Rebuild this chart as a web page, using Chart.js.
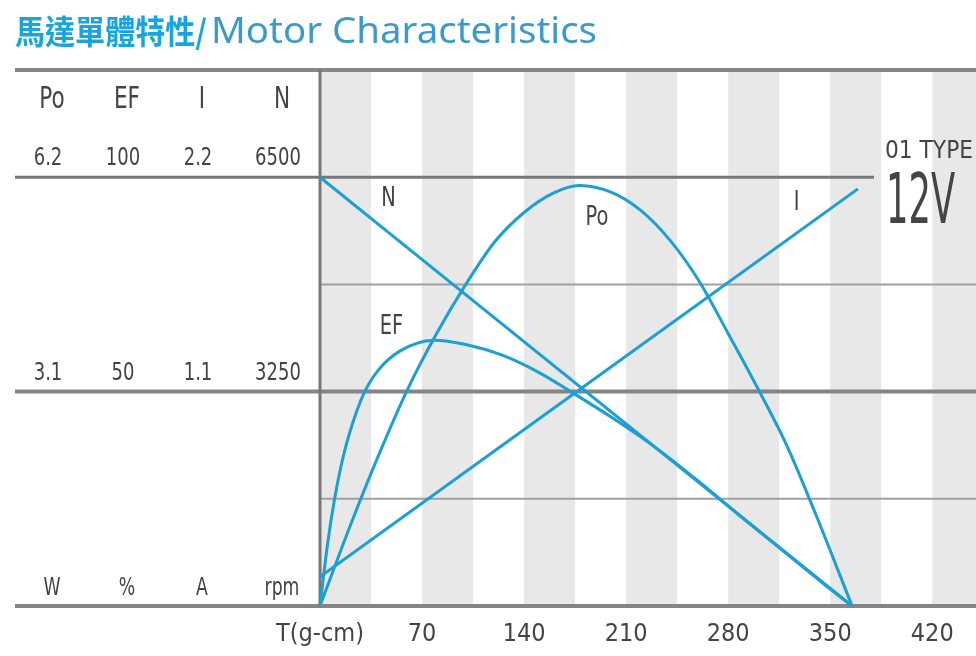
<!DOCTYPE html>
<html>
<head>
<meta charset="utf-8">
<script src="https://cdn.jsdelivr.net/npm/chart.js@4.4.0/dist/chart.umd.min.js"></script>
<style>
html, body { margin: 0; padding: 0; background: #fff; }
#wrap { width: 976px; height: 656px; }
</style>
</head>
<body>
<div id="wrap"><canvas id="myChart" width="976" height="656"></canvas></div>
<script>
// torque axis (g-cm)
const TORQUE_TICKS = [0, 70, 140, 210, 280, 350, 420];
const TICK_LABELS = ["T(g-cm)", "70", "140", "210", "280", "350", "420"];

// curves, in their own units
const PO_T = [0, 20, 40, 60, 80, 100, 120, 140, 160, 178, 200, 220, 240, 260, 280, 300, 320, 340, 365];
const PO_W = [0, 1.12, 2.17, 3.13, 3.94, 4.65, 5.27, 5.69, 5.97, 6.08, 5.98, 5.72, 5.29, 4.70, 3.94, 3.16, 2.33, 1.33, 0];

const EF_T = [0, 5, 10, 15, 20, 30, 40, 55, 78, 100, 125, 150, 172, 200, 230, 260, 290, 320, 345, 365];
const EF_PCT = [0, 14, 25, 33.5, 40, 49.5, 55, 59.5, 62, 61, 58.5, 54.5, 50, 44, 37, 29, 20.5, 12.2, 5.3, 0];

const I_T = [0, 369];
const I_A = [0.15, 2.14];

const N_T = [0, 365];
const N_RPM = [6500, 0];

// left-hand scale table
const COLS = ["Po", "EF", "I", "N"];
const FULL = [6.2, 100, 2.2, 6500];
const TOP_ROW = ["6.2", "100", "2.2", "6500"];
const MID_ROW = ["3.1", "50", "1.1", "3250"];
const UNITS = ["W", "%", "A", "rpm"];

const BLUE = '#1c9fd2';
const TXT = '#444';
const NARROW = '"DejaVu Sans Condensed", "DejaVu Sans", sans-serif';

function toPct(ts, vals, full) {
  return ts.map((t, i) => ({ x: t, y: vals[i] / full * 100 }));
}

function line(label, data) {
  return {
    label: label,
    data: data,
    borderColor: BLUE,
    borderWidth: 3,
    pointRadius: 0,
    fill: false,
    cubicInterpolationMode: 'monotone'
  };
}

// draw text squeezed horizontally
function drawText(ctx, str, cx, cy, font, sx, color, align) {
  ctx.save();
  ctx.font = font;
  ctx.fillStyle = color || TXT;
  ctx.textAlign = align || 'center';
  ctx.textBaseline = 'middle';
  ctx.translate(cx, cy);
  ctx.scale(sx, 1);
  ctx.fillText(str, 0, 0);
  ctx.restore();
}

// draw text stretched to a given width, left aligned
function fitText(ctx, str, left, cy, font, width, color) {
  ctx.save();
  ctx.font = font;
  const sx = width / ctx.measureText(str).width;
  ctx.restore();
  drawText(ctx, str, left, cy, font, sx, color, 'left');
}

const frame = {
  id: 'frame',
  beforeDatasetsDraw(chart) {
    const { ctx, chartArea: a, scales: { x, y } } = chart;
    ctx.save();
    // grey bands
    ctx.fillStyle = '#e8e8e8';
    TORQUE_TICKS.forEach(v => {
      const x0 = x.getPixelForValue(v);
      const x1 = Math.min(x.getPixelForValue(v + 35), a.right);
      ctx.fillRect(x0, a.top, x1 - x0, a.bottom - a.top);
    });
    // horizontal rules: value, left, right, width, colour
    const rules = [
      [125, 15, a.right, 4, '#858585'],
      [100, 15, x.getPixelForValue(380), 3, '#777'],
      [75, a.left, a.right, 2, '#a0a0a0'],
      [50, 15, a.right, 4, '#858585'],
      [25, a.left, a.right, 2, '#a0a0a0'],
      [0, 15, a.right, 4, '#858585']
    ];
    rules.forEach(r => {
      const py = y.getPixelForValue(r[0]);
      ctx.beginPath();
      ctx.strokeStyle = r[4];
      ctx.lineWidth = r[3];
      ctx.moveTo(r[1], py);
      ctx.lineTo(r[2], py);
      ctx.stroke();
    });
    // vertical axis
    ctx.beginPath();
    ctx.strokeStyle = '#777';
    ctx.lineWidth = 3;
    ctx.moveTo(a.left, a.top);
    ctx.lineTo(a.left, a.bottom);
    ctx.stroke();
    ctx.restore();
  },
  afterDraw(chart) {
    const { ctx, scales: { x, y } } = chart;
    // title
    fitText(ctx, '馬達單體特性/', 15, 31, 'bold 33px "Noto Sans CJK TC"', 192, '#17a5e2');
    fitText(ctx, 'Motor Characteristics', 211, 33, '36px "Noto Sans"', 386, '#3a9bcb');

    // left table
    const colX = [52, 127, 202, 282];
    const yTop = y.getPixelForValue(100), yMid = y.getPixelForValue(50), yBot = y.getPixelForValue(0);
    COLS.forEach((c, i) => {
      drawText(ctx, c, colX[i], 100, '30px ' + NARROW, 0.8);
      drawText(ctx, TOP_ROW[i], colX[i] - 4, yTop - 19, '25px ' + NARROW, 0.8);
      drawText(ctx, MID_ROW[i], colX[i] - 4, yMid - 18, '25px ' + NARROW, 0.8);
      drawText(ctx, UNITS[i], colX[i], yBot - 17, '24px ' + NARROW, 0.8);
    });

    // curve names, placed in data space
    drawText(ctx, 'N', x.getPixelForValue(47), y.getPixelForValue(95), '27px ' + NARROW, 0.8);
    drawText(ctx, 'Po', x.getPixelForValue(190), y.getPixelForValue(90.5), '27px ' + NARROW, 0.8);
    drawText(ctx, 'I', x.getPixelForValue(327), y.getPixelForValue(94), '27px ' + NARROW, 0.8);
    drawText(ctx, 'EF', x.getPixelForValue(49), y.getPixelForValue(65), '27px ' + NARROW, 0.8);

    // type / voltage
    fitText(ctx, '01 TYPE', 885, 151, '25px ' + NARROW, 88);
    fitText(ctx, '12V', 886, 205, '70px ' + NARROW, 69);
  }
};

const CHART = document.getElementById("myChart");
let motorChart = new Chart(CHART, {
  type: 'line',
  data: {
    datasets: [
      line('N', toPct(N_T, N_RPM, FULL[3])),
      line('Po', toPct(PO_T, PO_W, FULL[0])),
      line('EF', toPct(EF_T, EF_PCT, FULL[1])),
      line('I', toPct(I_T, I_A, FULL[2]))
    ]
  },
  options: {
    responsive: false,
    animation: false,
    devicePixelRatio: 1,
    layout: { padding: { left: 320, right: 0, top: 70, bottom: 0 } },
    plugins: {
      legend: { display: false },
      tooltip: { enabled: false }
    },
    scales: {
      x: {
        type: 'linear',
        min: 0,
        max: 450,
        afterBuildTicks: s => { s.ticks = TORQUE_TICKS.map(v => ({ value: v })); },
        afterFit: s => { s.height = 50; },
        grid: { display: false, drawTicks: false },
        border: { display: false },
        ticks: {
          padding: 13,
          color: TXT,
          font: { family: NARROW, size: 25 },
          maxRotation: 0,
          autoSkip: false,
          callback: (v, i) => TICK_LABELS[i]
        }
      },
      y: {
        display: false,
        min: 0,
        max: 125
      }
    }
  },
  plugins: [frame]
});
</script>
</body>
</html>
